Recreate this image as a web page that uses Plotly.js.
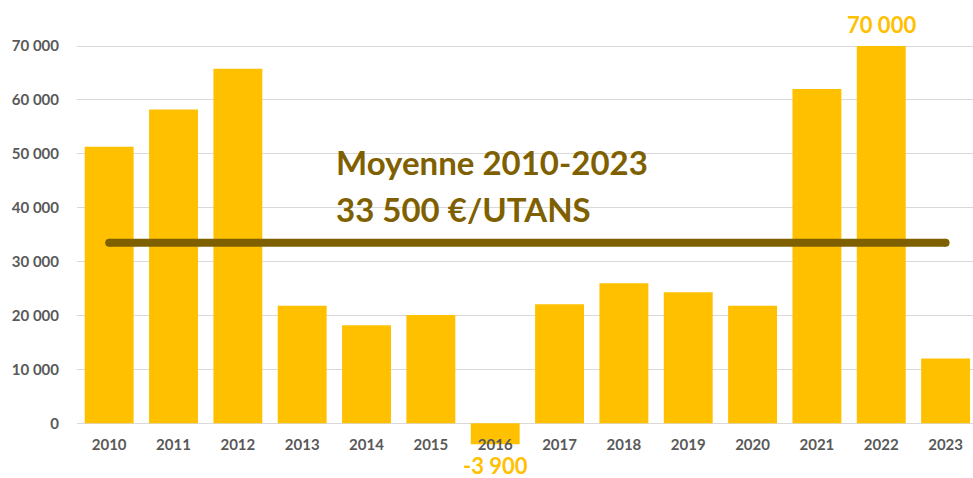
<!DOCTYPE html>
<html>
<head>
<meta charset="utf-8">
<script src="https://cdn.plot.ly/plotly-3.0.1.min.js"></script>
<style>html,body{margin:0;padding:0;background:#fff;}#chart{width:973px;height:478px;}</style>
</head>
<body>
<div id="chart"></div>
<script>
const years = ['2010','2011','2012','2013','2014','2015','2016','2017','2018','2019','2020','2021','2022','2023'];
const values = [51300, 58200, 65800, 21800, 18200, 20100, -3900, 22100, 26000, 24300, 21800, 62000, 70000, 12000];
const labelledYears = ['2016', '2022'];
const meanValue = 33500;
const meanLine1 = 'Moyenne 2010-2023';
const meanLine2 = '33 500 €/UTANS';
const yTicks = [0, 10000, 20000, 30000, 40000, 50000, 60000, 70000];

const gold = '#FFC000';
const dark = '#7F6000';
const fmt = v => (v < 0 ? '-' : '') + Math.abs(v).toString().replace(/\B(?=(\d{3})+(?!\d))/g, ' ');

const traces = [
  {
    type: 'bar', x: years, y: values,
    marker: {color: gold},
    hoverinfo: 'skip'
  },
  {
    type: 'scatter', mode: 'lines+markers',
    x: [years[0], years[years.length - 1]], y: [meanValue, meanValue],
    line: {color: dark, width: 8},
    marker: {color: dark, size: 8},
    hoverinfo: 'skip'
  }
];

const annotations = labelledYears.map(yr => {
  const i = years.indexOf(yr);
  const v = values[i];
  return {
    x: i, y: v, xref: 'x', yref: 'y',
    text: '<b>' + fmt(v) + '</b>', showarrow: false,
    yanchor: v < 0 ? 'top' : 'bottom',
    yshift: v < 0 ? -10 : 7,
    height: v < 0 ? 21 : null,
    borderpad: 0,
    font: {family: 'Lato, sans-serif', size: 22, color: gold}
  };
});
annotations.push({
  xref: 'paper', yref: 'y', x: 0.287, y: 48400, xanchor: 'left', yanchor: 'middle',
  text: '<b>' + meanLine1 + '</b>', showarrow: false,
  font: {family: 'Lato, sans-serif', size: 33, color: dark}
});
annotations.push({
  xref: 'paper', yref: 'y', x: 0.287, y: 39800, xanchor: 'left', yanchor: 'middle',
  text: '<b>' + meanLine2 + '</b>', showarrow: false,
  font: {family: 'Lato, sans-serif', size: 33, color: dark}
});

const layout = {
  width: 973, height: 478,
  margin: {l: 77, r: 0, t: 20, b: 28},
  paper_bgcolor: '#ffffff', plot_bgcolor: '#ffffff',
  showlegend: false,
  separators: ', ',
  bargap: 0.24,
  xaxis: {
    type: 'category', range: [-0.5, 13.426],
    anchor: 'free', position: 0.0621,
    showgrid: false, showline: false, zeroline: false,
    ticks: 'outside', ticklen: 8, tickcolor: 'rgba(0,0,0,0)',
    tickfont: {family: 'Lato, sans-serif', size: 15, color: '#595959', weight: 'bold'},
    fixedrange: true
  },
  yaxis: {
    range: [-4954, 74824],
    tickvals: yTicks, ticktext: yTicks.map(fmt),
    showgrid: true, gridcolor: '#d9d9d9', gridwidth: 1,
    zeroline: true, zerolinecolor: '#d9d9d9', zerolinewidth: 1,
    showline: false,
    ticks: 'outside', ticklen: 14, tickcolor: 'rgba(0,0,0,0)',
    tickfont: {family: 'Lato, sans-serif', size: 15, color: '#595959', weight: 'bold'},
    fixedrange: true
  },
  annotations: annotations
};

Plotly.newPlot('chart', traces, layout, {displayModeBar: false, staticPlot: true});
</script>
</body>
</html>
